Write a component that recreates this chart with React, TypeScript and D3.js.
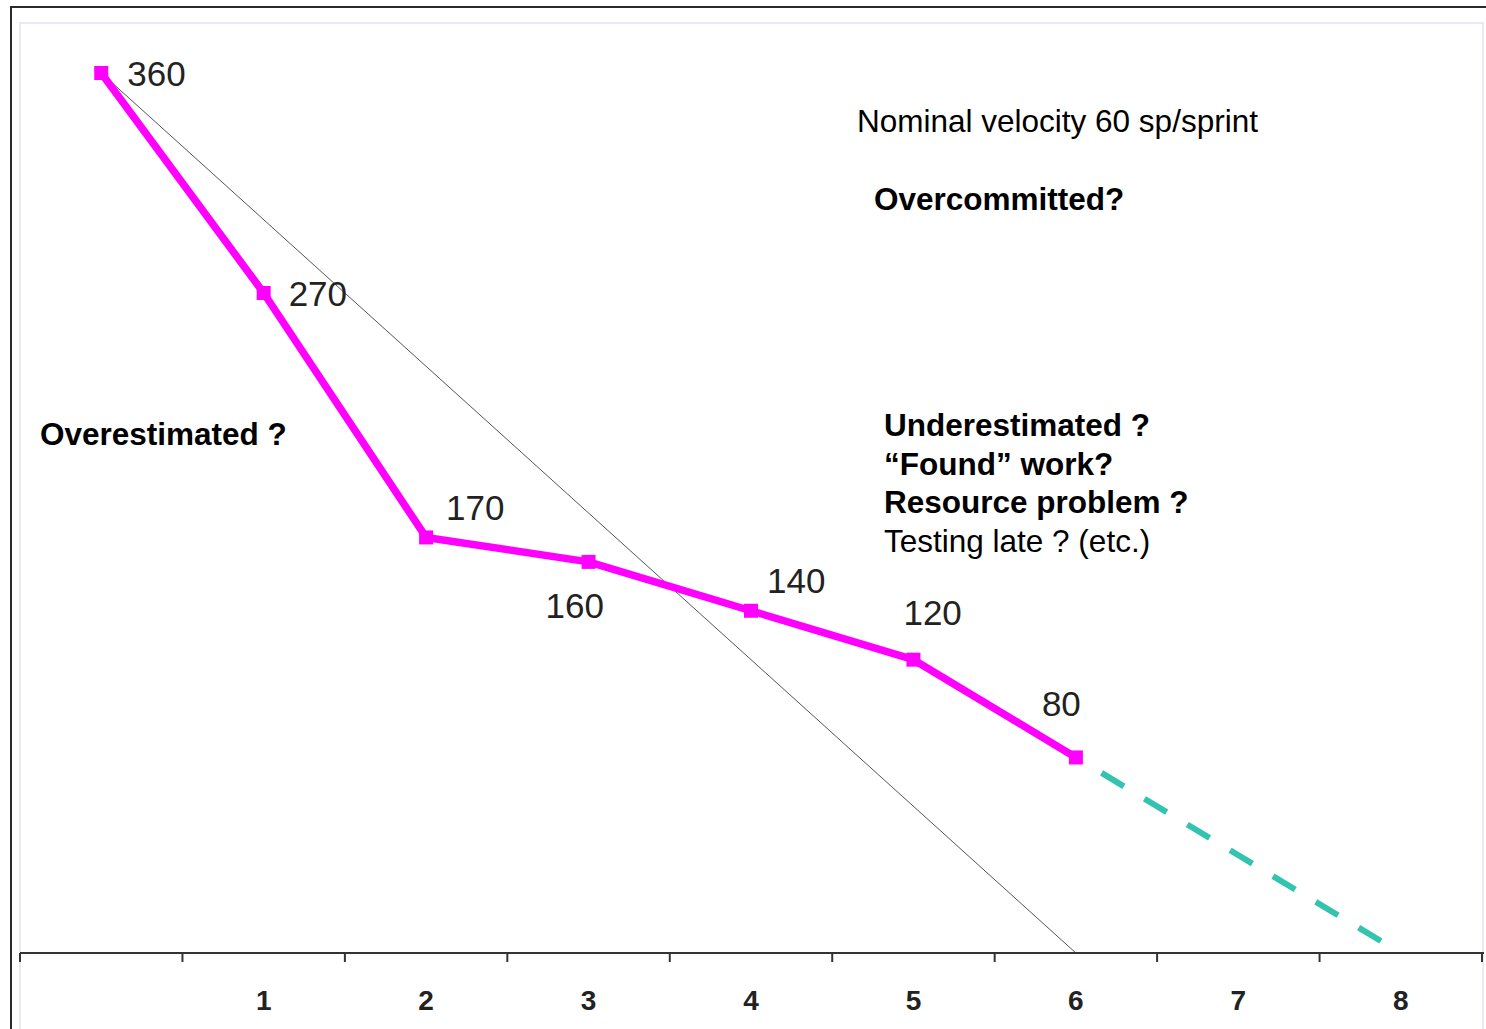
import React from "react";
import * as d3 from "d3";

const sprintLabels = ["", "1", "2", "3", "4", "5", "6", "7", "8"];
const sprintIndex = [0, 1, 2, 3, 4, 5, 6, 7, 8];
const remaining = [360, 270, 170, 160, 140, 120, 80];
const idealSprints = [0, 6];
const idealValues = [360, 0];
const projectionSprints = [6, 8];
const projectionValues = [80, 0];
// label offsets (dx, dy) relative to each point, for layout only
const labelDx = [26, 25, 20, -43, 16, -10, -34];
const labelDy = [13, 13, -17, 56, -18, -35, -41];

const W = 1486;
const H = 1029;
const FONT = "'Liberation Sans', Arial, Helvetica, sans-serif";

export default function App() {
  const band = d3.scaleBand<number>().domain(sprintIndex).range([20, 1482]).padding(0);
  const x = (i: number) => (band(i) as number) + band.bandwidth() / 2;
  const y = d3.scaleLinear().domain([0, 360]).range([953, 73]);

  const line = d3
    .line<[number, number]>()
    .x((d) => x(d[0]))
    .y((d) => y(d[1]));

  const actualPts: [number, number][] = remaining.map((v, i) => [i, v]);
  const idealPts: [number, number][] = idealSprints.map((s, i) => [s, idealValues[i]]);
  const projPts: [number, number][] = projectionSprints.map((s, i) => [s, projectionValues[i]]);

  const tickPositions = sprintIndex.map((i) => band(i) as number).concat([1482]);

  return (
    <svg
      width={W}
      height={H}
      style={{ position: "absolute", left: 0, top: 0, background: "#fff" }}
      fontFamily={FONT}
    >
      <rect x={0} y={0} width={W} height={H} fill="#fff" />
      {/* outer frame */}
      <rect x={11} y={7} width={W} height={H} fill="none" stroke="#2a2a2a" strokeWidth={2} />
      {/* inner faint frame */}
      <rect x={20} y={23} width={1463} height={H} fill="none" stroke="#e2e2f4" strokeWidth={1.5} />

      {/* ideal line */}
      <path d={line(idealPts) || ""} fill="none" stroke="#555" strokeWidth={1} />

      {/* projection dashed */}
      <path
        d={line(projPts) || ""}
        fill="none"
        stroke="#33c4b0"
        strokeWidth={6}
        strokeDasharray="26 24"
        strokeDashoffset={20}
      />

      {/* axis */}
      <line x1={20} x2={1484} y1={y(0)} y2={y(0)} stroke="#333" strokeWidth={2} />
      {tickPositions.map((t, i) => (
        <line key={i} x1={t} x2={t} y1={y(0)} y2={y(0) + 9} stroke="#333" strokeWidth={2} />
      ))}
      {sprintLabels.map((l, i) => (
        <text
          key={i}
          x={x(i)}
          y={1010}
          textAnchor="middle"
          fontSize={28}
          fontWeight="bold"
          fill="#222"
        >
          {l}
        </text>
      ))}

      {/* actual line */}
      <path d={line(actualPts) || ""} fill="none" stroke="#ff00ff" strokeWidth={7.5} strokeLinejoin="round" />
      {actualPts.map((d, i) => (
        <rect key={i} x={x(d[0]) - 7} y={y(d[1]) - 7} width={14} height={14} fill="#ff00ff" />
      ))}
      {actualPts.map((d, i) => (
        <text key={i} x={x(d[0]) + labelDx[i]} y={y(d[1]) + labelDy[i]} fontSize={35} fill="#222">
          {d[1]}
        </text>
      ))}

      {/* annotations */}
      <text x={857} y={132} fontSize={31.5} fill="#000">
        Nominal velocity 60 sp/sprint
      </text>
      <text x={874} y={210} fontSize={31.5} fontWeight="bold" fill="#000">
        Overcommitted?
      </text>
      <text x={40} y={445} fontSize={31.5} fontWeight="bold" fill="#000">
        Overestimated ?
      </text>
      <text x={884} y={436} fontSize={31.5} fontWeight="bold" fill="#000">
        Underestimated ?
      </text>
      <text x={884} y={475} fontSize={31.5} fontWeight="bold" fill="#000">
        “Found” work?
      </text>
      <text x={884} y={513} fontSize={31.5} fontWeight="bold" fill="#000">
        Resource problem ?
      </text>
      <text x={884} y={552} fontSize={31.5} fill="#000">
        Testing late ? (etc.)
      </text>
    </svg>
  );
}
